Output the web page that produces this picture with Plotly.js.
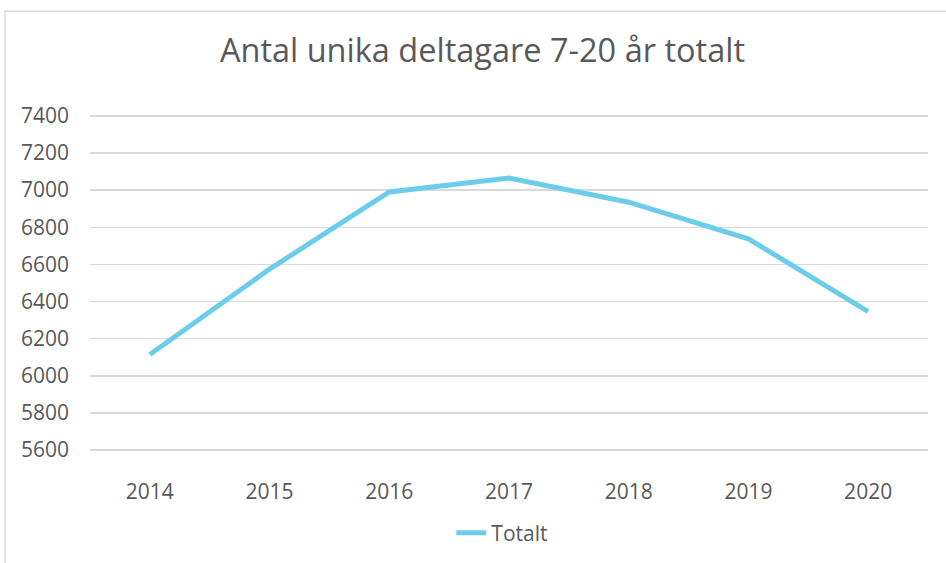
<!DOCTYPE html>
<html>
<head>
<meta charset="utf-8">
<script src="https://cdn.plot.ly/plotly-3.0.1.min.js"></script>
<style>
  html, body { margin: 0; padding: 0; background: #fff; }
  #graph { width: 946px; height: 563px; }
</style>
</head>
<body>
<div id="graph"></div>
<script>
// Data
const years = ["2014", "2015", "2016", "2017", "2018", "2019", "2020"];
const totalt = [6115, 6575, 6990, 7065, 6935, 6738, 6346];
const yTicks = [5600, 5800, 6000, 6200, 6400, 6600, 6800, 7000, 7200, 7400];

const textColor = "#595959";
const gridColor = "#d9d9d9";

const trace = {
  x: years,
  y: totalt,
  type: "scatter",
  mode: "lines",
  name: "Totalt",
  line: { color: "#6ccdea", width: 5 },
};

const layout = {
  width: 946,
  height: 563,
  margin: { l: 90, r: 18, t: 114, b: 111 },
  paper_bgcolor: "#fff",
  plot_bgcolor: "#fff",
  font: { family: "Open Sans, sans-serif", color: textColor, size: 21 },
  title: {
    text: "Antal unika deltagare 7-20 år totalt",
    font: { size: 32.5, color: textColor },
    xref: "container",
    yref: "container",
    x: 0.51,
    y: 0.91,
    xanchor: "center",
    yanchor: "middle",
  },
  xaxis: {
    type: "category",
    range: [-0.5, 6.5],
    showgrid: false,
    showline: false,
    zeroline: false,
    ticks: "",
    ticklabelstandoff: 25,
    tickfont: { size: 21 },
  },
  yaxis: {
    range: [5590, 7410],
    tickvals: yTicks,
    showgrid: true,
    gridcolor: gridColor,
    gridwidth: 1.5,
    zeroline: false,
    showline: false,
    ticks: "",
    ticklabelstandoff: 20,
    tickfont: { size: 21 },
  },
  showlegend: true,
  legend: {
    orientation: "h",
    xref: "container",
    yref: "container",
    x: 0.531,
    y: 0.053,
    xanchor: "center",
    yanchor: "middle",
    font: { size: 21 },
  },
  shapes: [
    {
      type: "rect",
      xref: "paper",
      yref: "paper",
      x0: -0.1014,
      x1: 2,
      y0: -2,
      y1: 1.304,
      line: { color: gridColor, width: 1.5 },
      layer: "below",
    },
  ],
};

Plotly.newPlot("graph", [trace], layout, { displayModeBar: false, staticPlot: true });
</script>
</body>
</html>
